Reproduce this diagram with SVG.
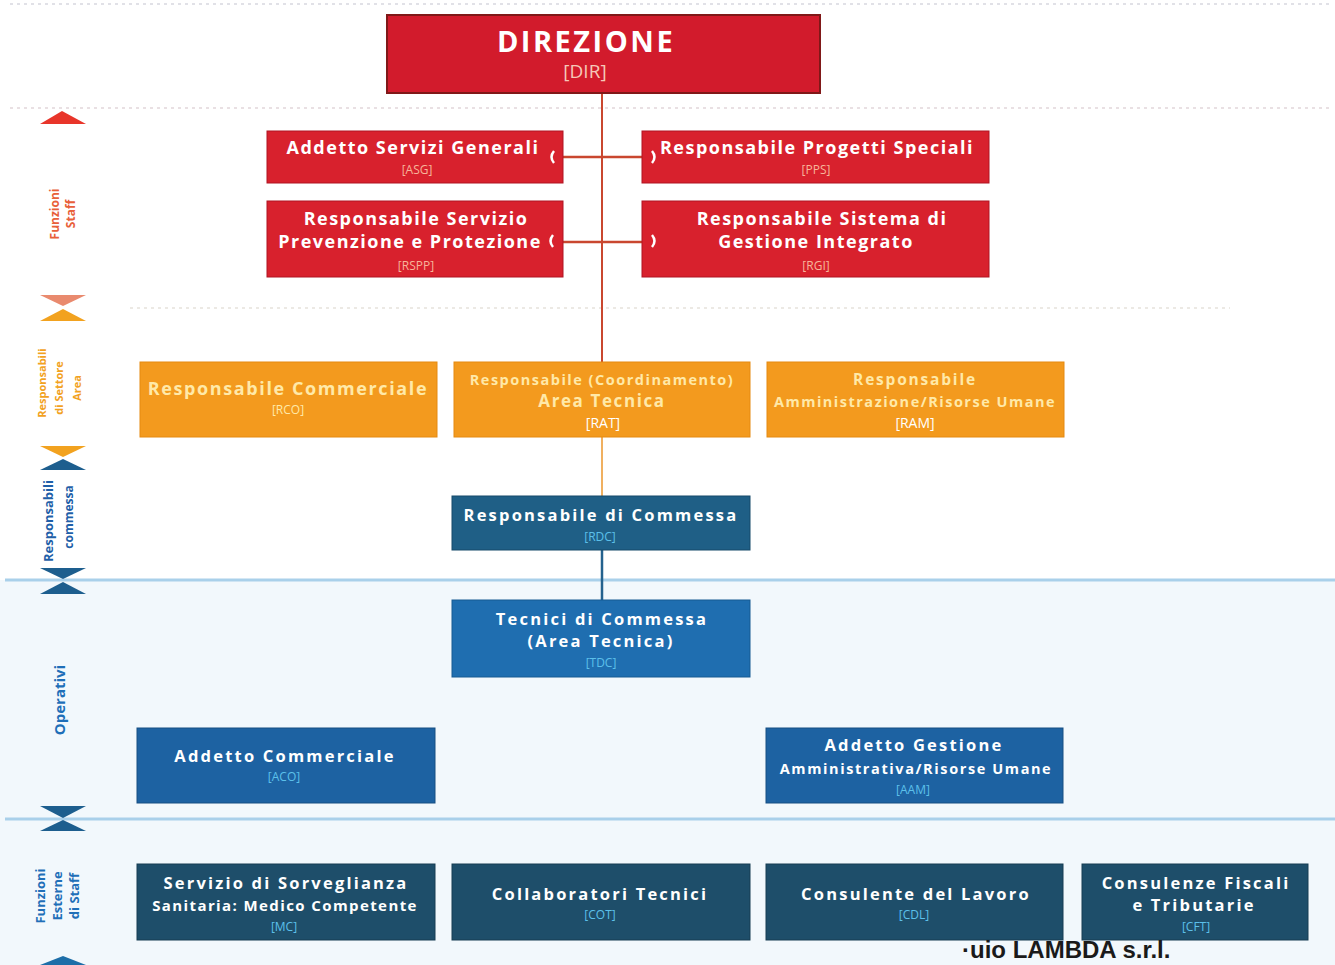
<svg xmlns="http://www.w3.org/2000/svg" width="1335" height="965" viewBox="0 0 1335 965">
<defs>
<style>
.t{font-family:"Open Sans","DejaVu Sans",sans-serif;font-weight:bold;text-anchor:middle;fill:#ffffff}
.c{font-family:"Open Sans","DejaVu Sans",sans-serif;font-size:12px;text-anchor:middle}
.red{fill:#d8212d;stroke:#b01522;stroke-width:1}
.org{fill:#f39a1e;stroke:#e58a10;stroke-width:1}
.rt{font-size:18px;letter-spacing:1.5px}
.ot{fill:#ffe9a8}
.cr{fill:#f7b59a}
.co{fill:#ffe9a8}
.cb{fill:#5cc0ea}
.tw{font-size:16.5px;letter-spacing:2.2px}
.lab{font-family:"Open Sans","DejaVu Sans",sans-serif;font-weight:bold;font-size:12px;text-anchor:middle}
.notch{fill:none;stroke:#ffffff;stroke-width:2.5}
</style>
</defs>
<rect width="1335" height="965" fill="#ffffff"/>
<rect x="0" y="580" width="1335" height="385" fill="#f2f8fc"/>
<line x1="10" y1="4" x2="1330" y2="4" stroke="#d8d8e0" stroke-width="1.5" stroke-dasharray="3 4"/>
<line x1="10" y1="108" x2="1330" y2="108" stroke="#e2d6da" stroke-width="1.5" stroke-dasharray="3 4"/>
<line x1="130" y1="308" x2="1230" y2="308" stroke="#e6e2dc" stroke-width="1.5" stroke-dasharray="3 4"/>
<line x1="5" y1="580" x2="1335" y2="580" stroke="#a9d0ea" stroke-width="3"/>
<line x1="5" y1="819" x2="1335" y2="819" stroke="#a9d0ea" stroke-width="3"/>

<g id="side-markers">
<polygon points="40,124 62,111 86,124" fill="#e8352a"/>
<polygon points="40,295 86,295 63,306" fill="#e98a6e"/>
<polygon points="40,321 86,321 63,309" fill="#f2a21f"/>
<polygon points="40,446 86,446 63,457" fill="#f2a21f"/>
<polygon points="40,470 86,470 63,459" fill="#1d5e8e"/>
<polygon points="40,568 86,568 63,579" fill="#1d5e8e"/>
<polygon points="40,594 86,594 63,582" fill="#1d5e8e"/>
<polygon points="40,806 86,806 63,818" fill="#1d5e8e"/>
<polygon points="40,831 86,831 63,820" fill="#1d5e8e"/>
<polygon points="40,965 86,965 63,956" fill="#1d6ea8"/>
</g>
<g id="side-labels">
<text class="lab" fill="#e8603a" font-size="13" transform="translate(59,214) rotate(-90)">Funzioni</text>
<text class="lab" fill="#e8603a" font-weight="normal" transform="translate(75,214) rotate(-90)">Staff</text>
<text class="lab" fill="#f2a21f" style="font-size:11px" transform="translate(46,383) rotate(-90)">Responsabili</text>
<text class="lab" fill="#f2a21f" style="font-size:11px" transform="translate(63,388) rotate(-90)">di Settore</text>
<text class="lab" fill="#f2a21f" style="font-size:11px" transform="translate(81,388) rotate(-90)">Area</text>
<text class="lab" fill="#1f5fa8" style="font-size:13px" transform="translate(53,521) rotate(-90)">Responsabili</text>
<text class="lab" fill="#1f5fa8" font-weight="normal" transform="translate(73,517) rotate(-90)">commessa</text>
<text class="lab" fill="#1f6fb8" style="font-size:15px" transform="translate(65,700) rotate(-90)">Operativi</text>
<text class="lab" fill="#1f6fb8" style="font-size:13px" transform="translate(45,896) rotate(-90)">Funzioni</text>
<text class="lab" fill="#1f6fb8" style="font-size:13px" transform="translate(62,896) rotate(-90)">Esterne</text>
<text class="lab" fill="#1f6fb8" style="font-size:13px" transform="translate(79,896) rotate(-90)">di Staff</text>
</g>

<g id="connectors">
<line x1="602" y1="93" x2="602" y2="362" stroke="#c9472f" stroke-width="2"/>
<line x1="563" y1="157" x2="642" y2="157" stroke="#c9472f" stroke-width="2.5"/>
<line x1="563" y1="242" x2="642" y2="242" stroke="#c9472f" stroke-width="2.5"/>
<line x1="602" y1="437" x2="602" y2="496" stroke="#f0b060" stroke-width="2"/>
<line x1="602" y1="550" x2="602" y2="600" stroke="#24628e" stroke-width="2.5"/>
</g>

<g id="DIR">
<rect x="387" y="15" width="433" height="78" fill="#d21b2c" stroke="#801818" stroke-width="2"/>
<text class="t" x="586" y="52" style="font-size:29px;letter-spacing:2.5px">DIREZIONE</text>
<text class="c" x="585" y="78" style="font-size:19px" fill="#f6c8b8">[DIR]</text>
</g>
<g id="ASG">
<rect class="red" x="267" y="131" width="296" height="52"/>
<text class="t rt" x="413" y="154">Addetto Servizi Generali</text>
<text class="c cr" x="417" y="174">[ASG]</text>
<path class="notch" d="M554,151 q-5,6 0,12"/>
</g>
<g id="PPS">
<rect class="red" x="642" y="131" width="347" height="52"/>
<text class="t rt" x="817" y="154">Responsabile Progetti Speciali</text>
<text class="c cr" x="816" y="174">[PPS]</text>
<path class="notch" d="M652,151 q5,6 0,12"/>
</g>
<g id="RSPP">
<rect class="red" x="267" y="201" width="296" height="76"/>
<text class="t rt" x="416" y="225">Responsabile Servizio</text>
<text class="t rt" x="410" y="248">Prevenzione e Protezione</text>
<text class="c cr" x="416" y="270">[RSPP]</text>
<path class="notch" d="M553,235 q-5,6 0,12"/>
</g>
<g id="RGI">
<rect class="red" x="642" y="201" width="347" height="76"/>
<text class="t rt" x="822" y="225">Responsabile Sistema di</text>
<text class="t rt" x="816" y="248">Gestione Integrato</text>
<text class="c cr" x="816" y="270">[RGI]</text>
<path class="notch" d="M652,235 q5,6 0,12"/>
</g>

<g id="RCO">
<rect class="org" x="140" y="362" width="297" height="75"/>
<text class="t ot" x="288" y="395" style="font-size:18px;letter-spacing:1.6px">Responsabile Commerciale</text>
<text class="c co" x="288" y="414">[RCO]</text>
</g>
<g id="RAT">
<rect class="org" x="454" y="362" width="296" height="75"/>
<text class="t ot" x="602" y="385" style="font-size:14.5px;letter-spacing:1.5px">Responsabile (Coordinamento)</text>
<text class="t ot" x="602" y="407" style="font-size:17px;letter-spacing:1.6px">Area Tecnica</text>
<text class="c" x="603" y="428" style="font-size:14px" fill="#ffffff">[RAT]</text>
</g>
<g id="RAM">
<rect class="org" x="767" y="362" width="297" height="75"/>
<text class="t ot" x="915" y="385" style="font-size:15.5px;letter-spacing:1.8px">Responsabile</text>
<text class="t ot" x="915" y="407" style="font-size:14.5px;letter-spacing:1.5px">Amministrazione/Risorse Umane</text>
<text class="c" x="915" y="428" style="font-size:14px" fill="#ffffff">[RAM]</text>
</g>

<g id="RDC">
<rect x="452" y="496" width="298" height="54" fill="#1f5f86" stroke="#174a6a" stroke-width="1"/>
<text class="t tw" x="601" y="521">Responsabile di Commessa</text>
<text class="c cb" x="600" y="541">[RDC]</text>
</g>
<g id="TDC">
<rect x="452" y="600" width="298" height="77" fill="#1f6eb0" stroke="#175a92" stroke-width="1"/>
<text class="t tw" x="602" y="625">Tecnici di Commessa</text>
<text class="t tw" x="601" y="647">(Area Tecnica)</text>
<text class="c cb" x="601" y="667">[TDC]</text>
</g>
<g id="ACO">
<rect x="137" y="728" width="298" height="75" fill="#1d62a2" stroke="#164e82" stroke-width="1"/>
<text class="t tw" x="285" y="762">Addetto Commerciale</text>
<text class="c cb" x="284" y="781">[ACO]</text>
</g>
<g id="AAM">
<rect x="766" y="728" width="297" height="75" fill="#1d62a2" stroke="#164e82" stroke-width="1"/>
<text class="t tw" x="914" y="751">Addetto Gestione</text>
<text class="t" x="916" y="774" style="font-size:14.5px;letter-spacing:1.6px">Amministrativa/Risorse Umane</text>
<text class="c cb" x="913" y="794">[AAM]</text>
</g>

<g id="MC">
<rect x="137" y="864" width="298" height="76" fill="#1e4e6a" stroke="#163c52" stroke-width="1"/>
<text class="t tw" x="286" y="889">Servizio di Sorveglianza</text>
<text class="t" x="285" y="911" style="font-size:15px;letter-spacing:1.4px">Sanitaria: Medico Competente</text>
<text class="c cb" x="284" y="931">[MC]</text>
</g>
<g id="COT">
<rect x="452" y="864" width="298" height="76" fill="#1e4e6a" stroke="#163c52" stroke-width="1"/>
<text class="t tw" x="600" y="900">Collaboratori Tecnici</text>
<text class="c cb" x="600" y="919">[COT]</text>
</g>
<g id="CDL">
<rect x="766" y="864" width="297" height="76" fill="#1e4e6a" stroke="#163c52" stroke-width="1"/>
<text class="t tw" x="916" y="900">Consulente del Lavoro</text>
<text class="c cb" x="914" y="919">[CDL]</text>
</g>
<g id="CFT">
<rect x="1082" y="864" width="226" height="76" fill="#1e4e6a" stroke="#163c52" stroke-width="1"/>
<text class="t tw" x="1196" y="889">Consulenze Fiscali</text>
<text class="t tw" x="1194" y="911">e Tributarie</text>
<text class="c cb" x="1196" y="931">[CFT]</text>
</g>

<text x="962" y="958" font-family="Liberation Sans, Arial, sans-serif" font-weight="bold" font-size="24" fill="#1a1a1a">·uio LAMBDA s.r.l.</text>
</svg>
